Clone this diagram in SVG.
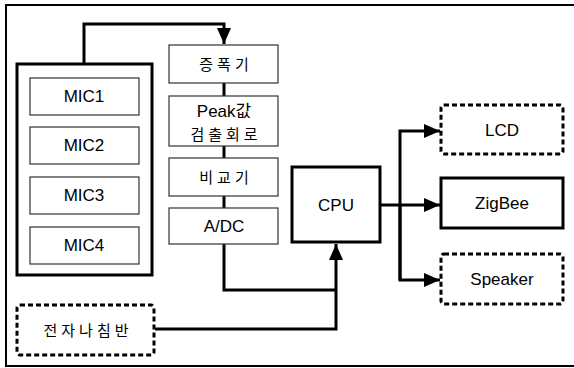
<svg xmlns="http://www.w3.org/2000/svg" width="574" height="368" viewBox="0 0 574 368">
<defs>
<marker id="ah" viewBox="0 0 16 14" refX="16" refY="7" markerWidth="16" markerHeight="14" markerUnits="userSpaceOnUse" orient="auto">
<path d="M0,0 L16,7 L0,14 Z" fill="#000"/>
</marker>
</defs>
<style>
.thin{fill:#fff;stroke:#333;stroke-width:1.2}
.thick{fill:#fff;stroke:#000;stroke-width:3}
.dash{fill:#fff;stroke:#000;stroke-width:3;stroke-dasharray:5 3}
.wire{fill:none;stroke:#000;stroke-width:3}
.t{font-family:"Liberation Sans",Arial,"Noto Sans CJK KR",sans-serif;font-size:17px;fill:#000;text-anchor:middle}
.k{font-family:"Noto Sans CJK KR","Liberation Sans",sans-serif;font-size:15px;fill:#000;text-anchor:middle;letter-spacing:4px}
</style>
<rect width="574" height="368" fill="#fff"/>
<path d="M574,5 L6,5 L6,366 L574,366" fill="none" stroke="#000" stroke-width="2"/>
<g id="connectors">
<path class="wire" d="M84,64 L84,24 L224,24 L224,44" marker-end="url(#ah)"/>
<path class="wire" d="M224,83 L224,96"/>
<path class="wire" d="M224,146 L224,158"/>
<path class="wire" d="M224,196 L224,208"/>
<path class="wire" d="M224,244 L224,290 L336,290"/>
<path class="wire" d="M155,329 L336,329 L336,244" marker-end="url(#ah)"/>
<path class="wire" d="M380,205 L440,205" marker-end="url(#ah)"/>
<path class="wire" d="M400,280 L400,131 L440,131" marker-end="url(#ah)"/>
<path class="wire" d="M400,205 L400,280 L440,280" marker-end="url(#ah)"/>
</g>
<g id="mic-group">
<rect class="thick" x="17" y="64" width="135" height="211"/>
</g>
<g id="mic1"><rect class="thin" x="30" y="78" width="109" height="37"/><text class="t" x="84" y="102">MIC1</text></g>
<g id="mic2"><rect class="thin" x="30" y="127" width="109" height="37"/><text class="t" x="84" y="151">MIC2</text></g>
<g id="mic3"><rect class="thin" x="30" y="177" width="109" height="37"/><text class="t" x="84" y="201">MIC3</text></g>
<g id="mic4"><rect class="thin" x="30" y="227" width="109" height="37"/><text class="t" x="84" y="251">MIC4</text></g>
<g id="amp"><rect class="thin" x="169" y="45" width="109" height="38"/><text class="k" x="226" y="70">증폭기</text></g>
<g id="peak"><rect class="thin" x="169" y="96" width="109" height="50"/><text class="t" x="224" y="117">Peak값</text><text class="k" x="226" y="140">검출회로</text></g>
<g id="comp"><rect class="thin" x="169" y="158" width="109" height="38"/><text class="k" x="226" y="183">비교기</text></g>
<g id="adc"><rect class="thin" x="169" y="208" width="109" height="36"/><text class="t" x="224" y="232">A/DC</text></g>
<g id="cpu"><rect class="thick" x="292" y="167" width="88" height="75"/><text class="t" x="336" y="211">CPU</text></g>
<g id="lcd"><rect class="dash" x="441" y="105" width="122" height="49" rx="3"/><text class="t" x="502" y="136">LCD</text></g>
<g id="zigbee"><rect class="thick" x="441" y="178" width="122" height="50"/><text class="t" x="502" y="209">ZigBee</text></g>
<g id="speaker"><rect class="dash" x="441" y="254" width="122" height="50" rx="3"/><text class="t" x="502" y="285">Speaker</text></g>
<g id="compass"><rect class="dash" x="17" y="305" width="137" height="50" rx="3"/><text class="k" x="88" y="336">전자나침반</text></g>
</svg>
